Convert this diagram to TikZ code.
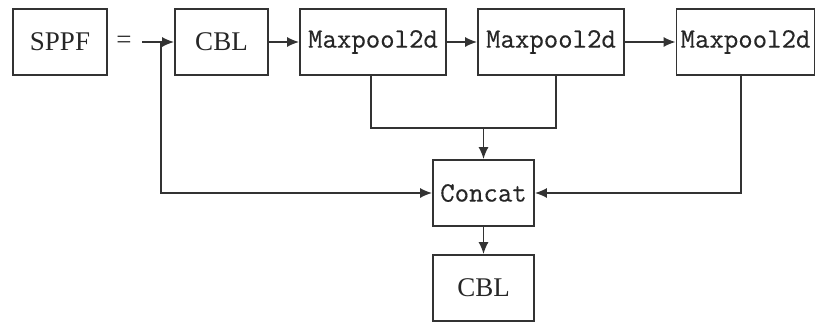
\documentclass[tikz,border=0pt]{standalone}
\usepackage{fontspec}
\setmainfont{Liberation Serif}
\newfontfamily\monof[FakeBold=0.4]{Latin Modern Mono}
\usetikzlibrary{arrows.meta,calc}
\begin{document}
\begin{tikzpicture}[x=1pt,y=-1pt,
  box/.style={draw=black!80,line width=1.8pt,inner sep=0pt,minimum height=66pt,text=black!85},
  serif/.style={font=\fontsize{27}{29}\selectfont},
  mono/.style={font=\monof\fontsize{28}{30}\selectfont},
  conn/.style={draw=black!80,line width=1.5pt},
  arr/.style={conn,-{Latex[length=12pt,width=10pt]}}]
\useasboundingbox (0,0) rectangle (816,325);
\node[box,serif,minimum width=94pt] (sppf) at (60,42) {SPPF};
\node[serif,text=black!80] (eq) at (124,42) {=};
\node[box,serif,minimum width=93pt] (cbl1) at (221.5,42) {CBL};
\node[box,mono,minimum width=146pt] (mp1) at (373,42) {Maxpool2d};
\node[box,mono,minimum width=146pt] (mp2) at (551,42) {Maxpool2d};
\node[box,mono,minimum width=138pt] (mp3) at (745.5,42) {Maxpool2d};
\node[box,mono,minimum width=101pt] (cat) at (483.5,193) {Concat};
\node[box,serif,minimum width=101pt] (cbl2) at (483.5,288) {CBL};
\coordinate (in) at (142,42);
\coordinate (br) at (161,42);
\coordinate (m) at (483.5,128);
\draw[arr] (in) -- (cbl1.west);
\draw[arr] (br) |- (cat.west);
\draw[arr] (cbl1.east) -- (mp1.west);
\draw[arr] (mp1.east) -- (mp2.west);
\draw[arr] (mp2.east) -- (mp3.west);
\draw[conn] ([xshift=-2pt]mp1.south) |- (m) -| ([xshift=5pt]mp2.south);
\draw[arr] (m) -- (cat.north);
\draw[arr] ([xshift=-4.5pt]mp3.south) |- (cat.east);
\draw[arr] (cat.south) -- (cbl2.north);
\end{tikzpicture}
\end{document}
